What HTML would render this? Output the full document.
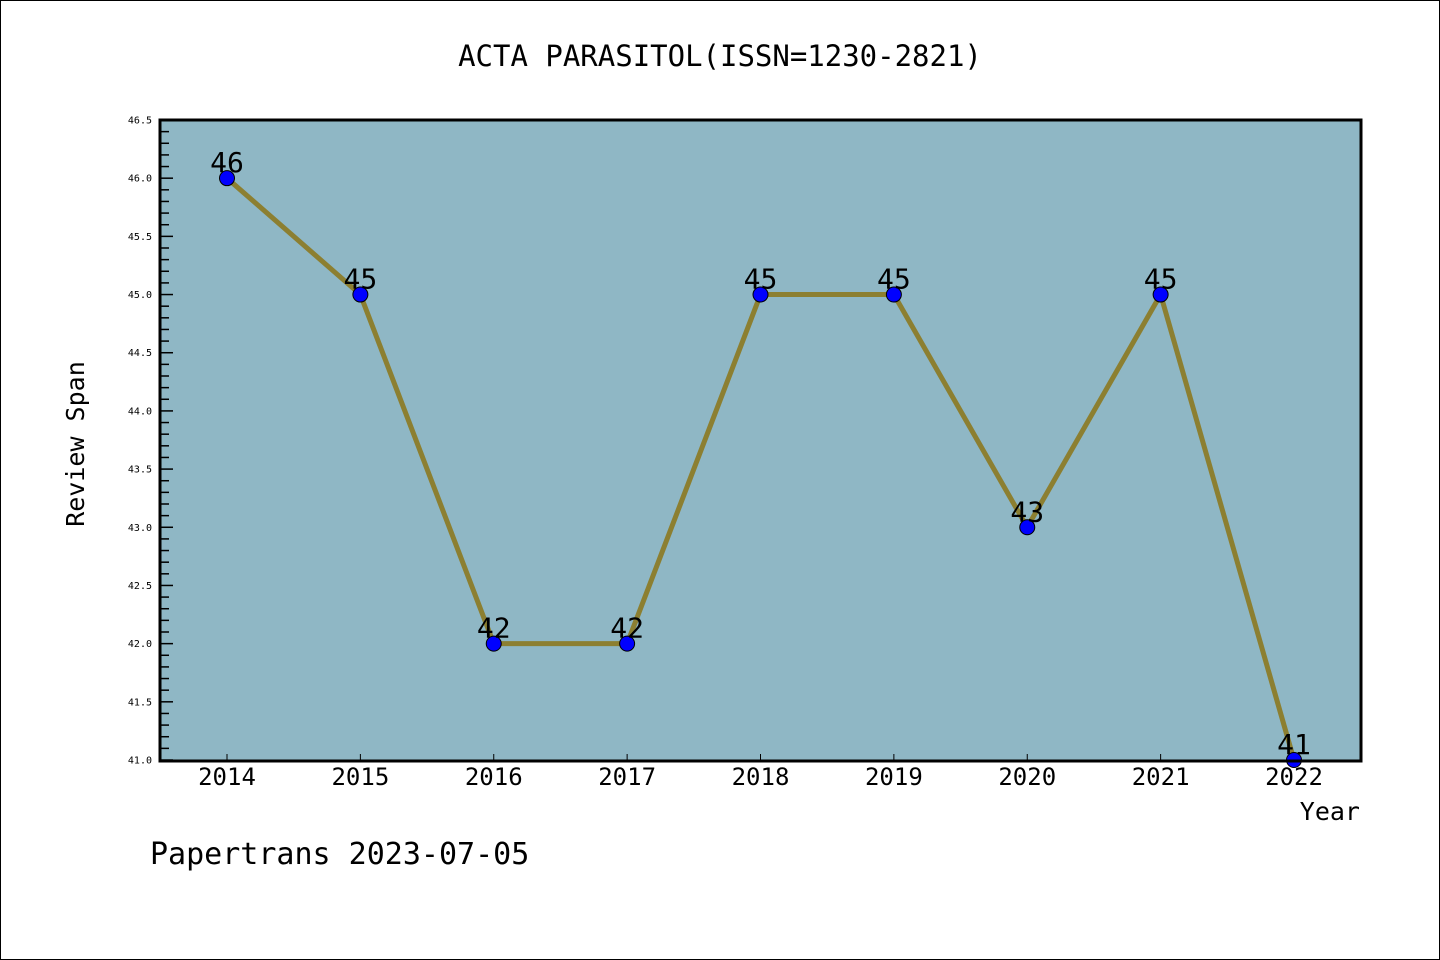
<!DOCTYPE html>
<html><head><meta charset="utf-8"><style>
body{margin:0;background:#fff}
svg{display:block}
text{font-family:"DejaVu Sans Mono","Liberation Mono",monospace}
</style></head><body>
<svg width="1440" height="960" xmlns="http://www.w3.org/2000/svg">
<rect x="0.5" y="0.5" width="1439" height="959" fill="#fff" stroke="#000"/>
<text x="720" y="66" font-size="29" text-anchor="middle">ACTA PARASITOL(ISSN=1230-2821)</text>
<rect x="160" y="120" width="1201" height="641" fill="#8fb7c5"/>
<g id="yaxis"></g>
<g id="xaxis"></g>
<g id="series"></g>
<rect x="160" y="120" width="1201" height="641" fill="none" stroke="#000" stroke-width="3"/>
<text x="84" y="444" font-size="25" text-anchor="middle" transform="rotate(-90 84 444)">Review Span</text>
<text x="1360" y="820" font-size="25" text-anchor="end">Year</text>
<text x="150" y="864" font-size="30">Papertrans 2023-07-05</text>
</svg>
<script>
const years=[2014,2015,2016,2017,2018,2019,2020,2021,2022];
const values=[46,45,42,42,45,45,43,45,41];
const yTicks=["41.0","41.5","42.0","42.5","43.0","43.5","44.0","44.5","45.0","45.5","46.0","46.5"];
const NS="http://www.w3.org/2000/svg";
const yMin=41,yMax=46.5,yTop=120,yBot=760;
const sy=v=>yBot-(v-yMin)/(yMax-yMin)*(yBot-yTop);
const sx=i=>227+i*(1294-227)/(years.length-1);
function mk(tag,attrs,parent){const e=document.createElementNS(NS,tag);for(const k in attrs)e.setAttribute(k,attrs[k]);parent.appendChild(e);return e;}
const ya=document.getElementById('yaxis');
for(let k=0;k<=55;k++){const v=yMin+k*0.1;const major=k%5===0;
 const l=mk('line',{x1:160,x2:major?173:169,y1:sy(v),y2:sy(v),stroke:'#000','stroke-width':1.5},ya);
 
 }
yTicks.forEach(t=>{const e=mk('text',{x:152,y:sy(parseFloat(t))+3.5,'font-size':10,'text-anchor':'end'},ya);e.textContent=t;
 
 });
const xa=document.getElementById('xaxis');
years.forEach((yr,i)=>{const l=mk('line',{x1:sx(i),x2:sx(i),y1:760,y2:754,stroke:'#000','stroke-width':1},xa);
 
 
 const t=mk('text',{x:sx(i),y:785,'font-size':24,'text-anchor':'middle'},xa);t.textContent=yr;
 
 });
const s=document.getElementById('series');
const pl=mk('polyline',{points:values.map((v,i)=>sx(i)+','+sy(v)).join(' '),fill:'none',stroke:'#8c7f31','stroke-width':5},s);


values.forEach((v,i)=>{const c=mk('circle',{cx:sx(i),cy:sy(v),r:7.5,fill:'#0000ff',stroke:'#000','stroke-width':1},s);
 
 
 const t=mk('text',{x:sx(i),y:sy(v)-6,'font-size':28,'text-anchor':'middle',fill:'#000'},s);t.textContent=v;
 
 });
</script>
</body></html>
